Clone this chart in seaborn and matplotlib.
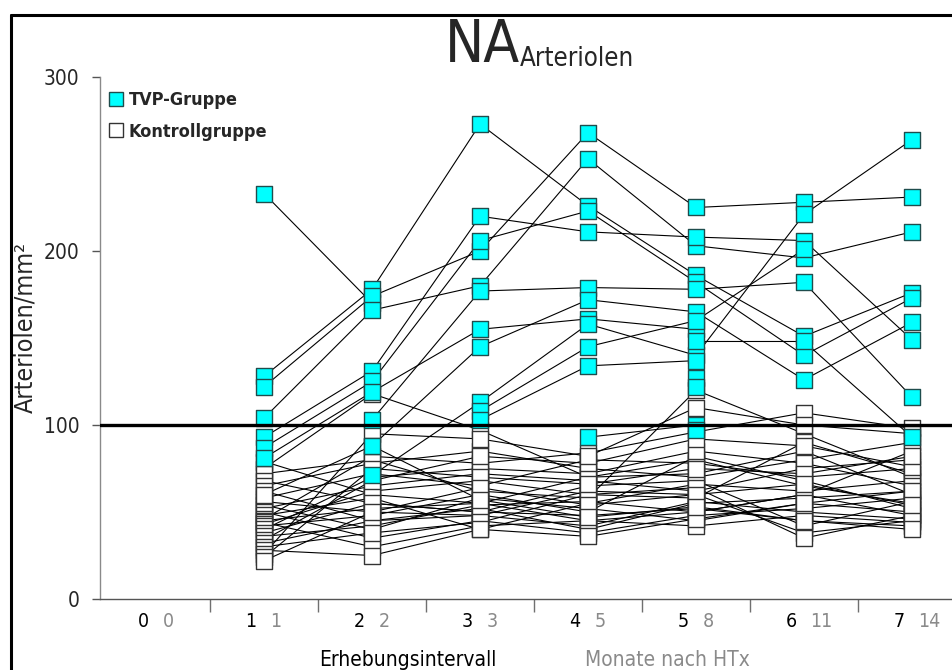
import numpy as np
import pandas as pd
import matplotlib.pyplot as plt
import seaborn as sns
from matplotlib.lines import Line2D
from matplotlib import transforms

nan = np.nan

# Erhebungsintervalle und Monate nach HTx
intervalle = [0, 1, 2, 3, 4, 5, 6, 7]
monate = [0, 1, 2, 3, 5, 8, 11, 14]
besuche = [1, 2, 3, 4, 5, 6, 7]

# TVP-Gruppe: Arteriolen/mm² je Patient (Intervall 1..7)
tvp_werte = [
    [233, 170, nan, nan, nan, nan, nan],
    [128, 178, 273, 226, 186, 151, 176],
    [122, 174, 200, 268, 225, 228, 231],
    [104, 166, 180, 253, 203, 196, 211],
    [93, 131, 220, 211, 208, 206, 149],
    [87, 125, 206, 223, 182, 140, 173],
    [81, 119, 155, 161, 155, nan, nan],
    [nan, 103, 177, 179, 178, 182, 116],
    [nan, 88, 145, 172, 165, 126, 159],
    [nan, 71, 113, 158, 140, 221, 264],
    [nan, nan, 108, 145, 160, 201, nan],
    [nan, nan, 103, 134, 137, nan, nan],
    [nan, nan, nan, 93, 100, nan, nan],
    [nan, nan, nan, nan, 148, 148, 93],
    [nan, nan, nan, nan, 127, nan, nan],
    [nan, nan, nan, nan, 122, nan, nan],
    [nan, nan, nan, nan, 97, nan, nan],
]

# Kontrollgruppe
kontroll_werte = [
    [79, 60, 55, 45, 50, 60, 48],
    [75, 118, 97, 70, 80, 65, 55],
    [72, 80, 62, 58, 120, 95, 70],
    [68, 55, 50, 48, 52, 45, 42],
    [65, 78, 85, 75, 70, 80, 90],
    [62, 45, 52, 40, 55, 58, 62],
    [58, 72, 65, 80, 78, 70, 75],
    [56, 50, 48, 62, 60, 38, 45],
    [54, 40, 58, 52, 45, 55, 50],
    [52, 65, 72, 68, 62, 75, 80],
    [50, 35, 45, 38, 48, 52, 58],
    [48, 58, 40, 55, 66, 62, 68],
    [46, 82, 78, 84, 96, 107, 98],
    [45, 52, 55, 70, 72, 85, 60],
    [44, 30, 42, 45, 42, 48, 44],
    [43, 62, 68, 60, 58, 90, 72],
    [42, 48, 60, 50, 82, 68, 52],
    [40, 70, 75, 72, 85, 78, 65],
    [38, 55, 50, 65, 68, 42, 56],
    [36, 42, 54, 56, 50, 60, 85],
    [34, 68, 82, 78, 92, 88, 76],
    [32, 45, 48, 42, 56, 50, 46],
    [30, 38, 44, 60, 64, 35, 48],
    [28, 25, 40, 36, 46, 55, 62],
    [26, 95, 92, 82, 110, 100, 95],
    [24, 75, 70, 66, 75, 72, 82],
    [22, 50, 64, 54, 60, 66, 54],
    [60, 88, 57, 47, 53, 45, 40],
]

zeilen = []
for gruppe, werte in [('TVP', tvp_werte), ('Kontrolle', kontroll_werte)]:
    for i, reihe in enumerate(werte):
        for b, w in zip(besuche, reihe):
            zeilen.append({'patient': f'{gruppe}{i}', 'gruppe': gruppe, 'besuch': b, 'wert': w})
df = pd.DataFrame(zeilen).dropna()

sns.set_style("white")
plt.rcParams['font.family'] = ['DejaVu Sans']
plt.rcParams['font.stretch'] = 'condensed'

W, H = 953, 670
fig = plt.figure(figsize=(W / 100, H / 100), dpi=100)
ax = fig.add_axes([100 / W, 71 / H, 853 / W, 522 / H])

sns.lineplot(data=df, x='besuch', y='wert', units='patient', estimator=None,
             color='black', linewidth=0.8, legend=False, ax=ax, zorder=2)
sns.scatterplot(data=df[df.gruppe == 'Kontrolle'], x='besuch', y='wert', marker='s',
                s=120, color='white', edgecolor='#333333', linewidth=1.0, ax=ax, zorder=3, legend=False)
sns.scatterplot(data=df[df.gruppe == 'TVP'], x='besuch', y='wert', marker='s',
                s=120, color='#00ffff', edgecolor='#1f4d4d', linewidth=1.0, ax=ax, zorder=4, legend=False)

ax.axhline(100, color='black', linewidth=2.4, zorder=5)

ax.set_xlim(-0.52, 7.38)
ax.set_ylim(0, 300)
ax.set_xlabel('')
ax.set_ylabel('')

for s in ['top', 'right']:
    ax.spines[s].set_visible(False)
ax.spines['left'].set_color('#8a8a8a')
ax.spines['left'].set_linewidth(1.0)
ax.spines['bottom'].set_color('#555555')
ax.spines['bottom'].set_linewidth(1.0)

ax.set_xticks([i + 0.5 for i in intervalle[:-1]])
ax.set_xticklabels([])
ax.tick_params(axis='x', direction='out', length=9.5, width=1, color='#707070', bottom=True)
ax.set_yticks([0, 100, 200, 300])
ax.set_yticklabels(['0', '100', '200', '300'], fontsize=15)
ax.tick_params(axis='y', direction='out', length=6, width=1, color='#555555', pad=9, left=True)

# Doppelte x-Beschriftung: Intervall (schwarz) und Monate (grau)
trans = transforms.blended_transform_factory(ax.transData, ax.transAxes)
for iv, mo in zip(intervalle, monate):
    ax.text(iv - 0.12, -0.044, str(iv), transform=trans, ha='center', va='center',
            fontsize=14, color='black')
    ax.text(iv + 0.06, -0.044, str(mo), transform=trans, ha='left', va='center',
            fontsize=14, color='#8a8a8a')

fig.text(408 / W, 1 - 660 / H, 'Erhebungsintervall', fontsize=15, ha='center', va='center', color='black')
fig.text(667 / W, 1 - 660 / H, 'Monate nach HTx', fontsize=15, ha='center', va='center', color='#8a8a8a')
fig.text(25 / W, 1 - 327 / H, 'Arteriolen/mm²', fontsize=18, rotation=90, ha='center', va='center')

# Titel mit Index
na = fig.text(445 / W, 1 - 62 / H, 'NA', fontsize=42, ha='left', va='baseline')
fig.canvas.draw()
bb = na.get_window_extent()
fig.text(bb.x1 / W, 1 - 66 / H, 'Arteriolen', fontsize=18.5, ha='left', va='baseline')

# Legende
handles = [
    Line2D([], [], marker='s', linestyle='', markersize=10.5, markerfacecolor='#00ffff',
           markeredgecolor='#1f4d4d', markeredgewidth=1.0),
    Line2D([], [], marker='s', linestyle='', markersize=10.5, markerfacecolor='white',
           markeredgecolor='#333333', markeredgewidth=1.0),
]
ax.legend(handles, ['TVP-Gruppe', 'Kontrollgruppe'], loc='upper left',
          bbox_to_anchor=(109 / W, 1 - 91 / H), bbox_transform=fig.transFigure,
          frameon=False, handlelength=0.8, handletextpad=0.3, borderpad=0,
          borderaxespad=0, labelspacing=0.75, prop={'size': 13, 'weight': 'bold'})

# Rahmen oben und links
fig.add_artist(Line2D([11 / W, 1], [1 - 15 / H, 1 - 15 / H], transform=fig.transFigure,
                      color='black', linewidth=2.2))
fig.add_artist(Line2D([11 / W, 11 / W], [0, 1 - 15 / H], transform=fig.transFigure,
                      color='black', linewidth=2.2))

fig.savefig('out.png', dpi=100)
